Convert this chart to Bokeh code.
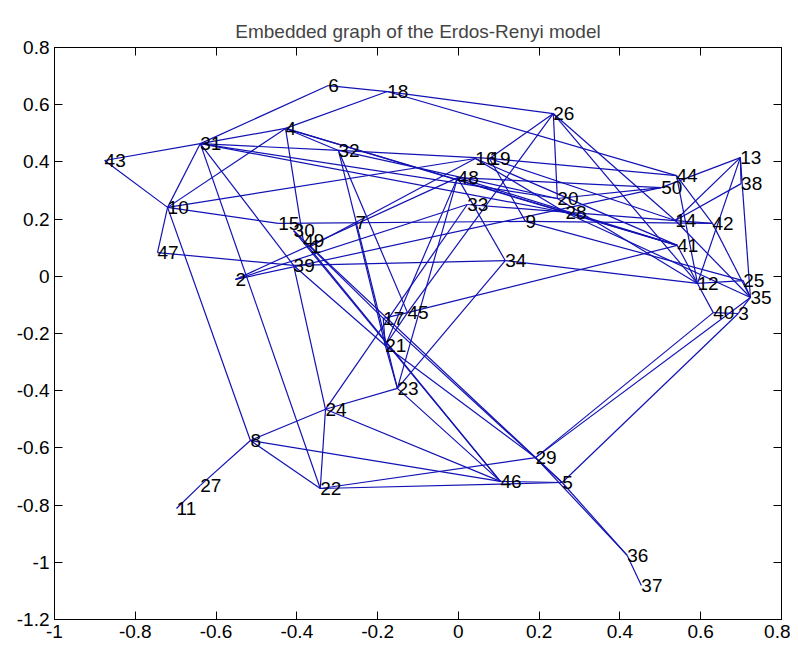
from bokeh.plotting import figure
from bokeh.models import Range1d, FixedTicker, LinearAxis, ColumnDataSource
from bokeh.embed import file_html
from bokeh.resources import INLINE

# Node ids and embedded coordinates
node_id = [str(i) for i in range(1, 51)]
node_x = [-0.366, -0.552, 0.693, -0.428, 0.257, -0.322, -0.255, -0.515, 0.166, -0.720,
          -0.698, 0.592, 0.698, 0.537, -0.446, 0.042, -0.186, -0.176, 0.077, 0.245,
          -0.181, -0.342, -0.151, -0.329, 0.705, 0.235, -0.639, 0.265, 0.191, -0.408,
          -0.639, -0.297, 0.022, 0.116, 0.723, 0.418, 0.453, 0.700, -0.408, 0.631,
          0.542, 0.629, -0.876, 0.540, -0.126, 0.104, -0.745, -0.002, -0.384, 0.502]
node_y = [0.104, -0.011, -0.130, 0.517, -0.721, 0.667, 0.188, -0.574, 0.192, 0.241,
          -0.812, -0.025, 0.415, 0.195, 0.185, 0.412, -0.147, 0.646, 0.412, 0.272,
          -0.242, -0.742, -0.392, -0.465, -0.015, 0.569, -0.731, 0.223, -0.634, 0.160,
          0.464, 0.440, 0.251, 0.055, -0.074, -0.976, -1.081, 0.324, 0.038, -0.127,
          0.108, 0.185, 0.405, 0.352, -0.127, -0.717, 0.083, 0.345, 0.125, 0.310]

# Edges (pairs of node ids)
edge_src = [43, 43, 31, 31, 31, 31, 31, 31, 31, 31,
            6, 18, 18, 18, 4, 4, 4, 4, 4,
            32, 32, 32, 32,
            10, 10, 10, 10, 47, 15, 30, 30,
            2, 2, 2, 1, 39, 39, 39,
            34, 34, 34, 48, 48, 48, 48, 33, 33,
            19, 19, 19, 19, 16, 16,
            26, 26, 26, 26, 20, 20, 28, 28,
            9, 9, 44, 44, 50,
            13, 13, 13, 13, 38, 14, 14, 42,
            41, 41, 12, 12, 25, 40, 3, 35, 40, 3,
            5, 36, 29, 5, 5, 22, 22, 22, 24, 24, 24, 8, 8, 27,
            23, 21, 17, 45, 7, 21, 17, 23, 49, 1]
edge_dst = [31, 10, 6, 4, 10, 22, 39, 32, 20, 28,
            18, 26, 44, 4, 32, 10, 49, 28, 41,
            19, 20, 45, 23,
            16, 15, 8, 47, 39, 9, 17, 46,
            48, 33, 50, 16, 34, 24, 21,
            12, 48, 23, 21, 23, 50, 41, 24, 14,
            26, 9, 44, 14, 28, 41,
            20, 45, 14, 12, 50, 12, 41, 35,
            42, 25, 42, 12, 13,
            38, 14, 12, 35, 14, 42, 35, 35,
            45, 12, 25, 40, 35, 3, 35, 29, 29, 5,
            36, 37, 36, 46, 22, 29, 24, 8, 8, 23, 46, 46, 27, 11,
            21, 17, 45, 21, 21, 29, 5, 46, 46, 5]

x_ticks = [-1.0, -0.8, -0.6, -0.4, -0.2, 0.0, 0.2, 0.4, 0.6, 0.8]
x_tick_labels = ["-1", "-0.8", "-0.6", "-0.4", "-0.2", "0", "0.2", "0.4", "0.6", "0.8"]
y_ticks = [-1.2, -1.0, -0.8, -0.6, -0.4, -0.2, 0.0, 0.2, 0.4, 0.6, 0.8]
y_tick_labels = ["-1.2", "-1", "-0.8", "-0.6", "-0.4", "-0.2", "0", "0.2", "0.4", "0.6", "0.8"]

FONT = "Liberation Sans"

p = figure(width=790, height=644, output_backend="svg", toolbar_location=None,
           x_range=Range1d(-1, 0.8), y_range=Range1d(-1.2, 0.8),
           min_border_left=54, min_border_right=9, min_border_top=47, min_border_bottom=25,
           title="Embedded graph of the Erdos-Renyi model")
p.title.align = "center"
p.title.text_font = FONT
p.title.text_font_size = "19px"
p.title.text_font_style = "normal"
p.title.standoff = 12
p.grid.visible = False
p.outline_line_color = "black"
p.outline_line_width = 1
p.background_fill_color = "white"
p.border_fill_color = "white"

idx = {k: i for i, k in enumerate(range(1, 51))}
src = ColumnDataSource(dict(
    x0=[node_x[idx[s]] for s in edge_src], y0=[node_y[idx[s]] for s in edge_src],
    x1=[node_x[idx[d]] for d in edge_dst], y1=[node_y[idx[d]] for d in edge_dst]))
p.segment(x0="x0", y0="y0", x1="x1", y1="y1", source=src, line_color="#1212b4", line_width=1.2)

nsrc = ColumnDataSource(dict(x=node_x, y=node_y, t=node_id))
p.text(x="x", y="y", text="t", source=nsrc, text_align="left", text_baseline="middle",
       text_font_size="19px", text_color="black", text_font={"value": FONT})

def style_axis(ax, ticks, labels, show_labels):
    ax.ticker = FixedTicker(ticks=ticks)
    ax.major_label_overrides = {t: l for t, l in zip(ticks, labels)}
    ax.major_tick_in = 8
    ax.major_tick_out = 0
    ax.minor_tick_line_color = None
    ax.axis_line_color = "black"
    ax.major_tick_line_color = "black"
    ax.major_label_text_font = FONT
    ax.major_label_text_font_size = "19px"
    ax.major_label_text_color = "black" if show_labels else None
    ax.major_label_standoff = 5

style_axis(p.xaxis[0], x_ticks, x_tick_labels, True)
style_axis(p.yaxis[0], y_ticks, y_tick_labels, True)
ra = LinearAxis()
ta = LinearAxis()
style_axis(ra, y_ticks, y_tick_labels, False)
style_axis(ta, x_ticks, x_tick_labels, False)
p.add_layout(ra, "right")
p.add_layout(ta, "above")

open("out.html", "w").write(file_html(p, INLINE))
